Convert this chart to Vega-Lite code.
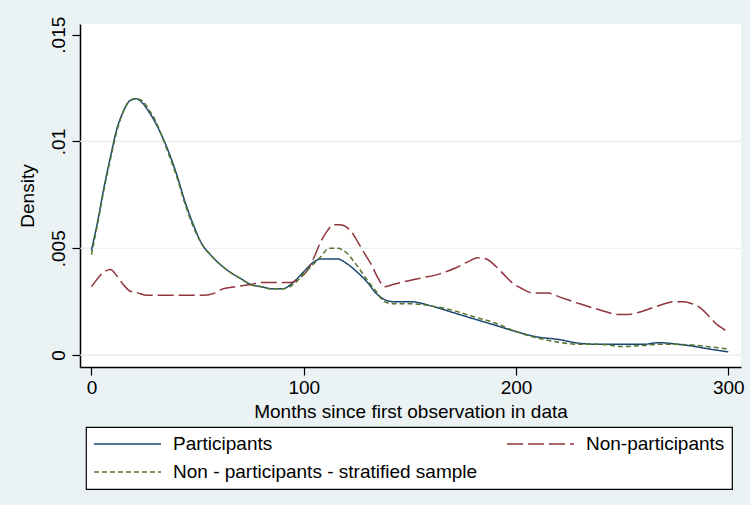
{
  "$schema": "https://vega.github.io/schema/vega-lite/v6.json",
  "width": 661,
  "height": 343,
  "autosize": {"type": "none"},
  "padding": {"left": 80, "top": 24, "right": 9, "bottom": 138},
  "background": "#EAF2F3",
  "config": {
    "view": {"fill": "white", "stroke": null},
    "font": "Liberation Sans",
    "axis": {
      "labelFont": "Liberation Sans",
      "titleFont": "Liberation Sans",
      "labelFontSize": 19,
      "titleFontSize": 19,
      "titleFontWeight": "normal",
      "labelColor": "black",
      "titleColor": "black",
      "domainColor": "black",
      "domainWidth": 1.5,
      "tickColor": "black",
      "tickWidth": 1.2,
      "tickSize": 8,
      "grid": false
    },
    "legend": {
      "labelFont": "Liberation Sans",
      "labelFontSize": 19,
      "labelColor": "black",
      "labelLimit": 500,
      "symbolType": "stroke",
      "symbolSize": 4489,
      "symbolStrokeWidth": 1.5,
      "clipHeight": 20,
      "rowPadding": 8,
      "columnPadding": 28,
      "labelOffset": 11,
      "padding": 7,
      "fillColor": "white",
      "strokeColor": "black",
      "strokeWidth": 1.2
    }
  },
  "layer": [
    {
      "data": {"values": [{"g": 0}, {"g": 0.005}, {"g": 0.01}]},
      "mark": {"type": "rule", "color": "#E3ECEF", "strokeWidth": 1.2},
      "encoding": {
        "y": {"field": "g", "type": "quantitative", "scale": {"domain": [-0.00056, 0.0155], "nice": false, "zero": false},
          "axis": {"title": "Density", "values": [0, 0.005, 0.01, 0.015], "labelAngle": -90, "labelAlign": "center", "labelBaseline": "bottom", "labelPadding": 4, "titlePadding": 12, "labelFlush": false,
            "labelExpr": "datum.value == 0 ? '0' : replace(format(datum.value, '~g'), '0.', '.')"}}
      }
    },
    {
      "data": {"values": [
        {"m": 0, "d": 0.0049, "s": "Participants"},
        {"m": 3, "d": 0.0063, "s": "Participants"},
        {"m": 6, "d": 0.0079, "s": "Participants"},
        {"m": 9, "d": 0.0093, "s": "Participants"},
        {"m": 12, "d": 0.0106, "s": "Participants"},
        {"m": 15, "d": 0.0114, "s": "Participants"},
        {"m": 18, "d": 0.0119, "s": "Participants"},
        {"m": 21, "d": 0.0120, "s": "Participants"},
        {"m": 24, "d": 0.0118, "s": "Participants"},
        {"m": 27, "d": 0.0114, "s": "Participants"},
        {"m": 30, "d": 0.0109, "s": "Participants"},
        {"m": 33, "d": 0.0103, "s": "Participants"},
        {"m": 36, "d": 0.0096, "s": "Participants"},
        {"m": 40, "d": 0.0085, "s": "Participants"},
        {"m": 44, "d": 0.0072, "s": "Participants"},
        {"m": 48, "d": 0.0061, "s": "Participants"},
        {"m": 52, "d": 0.0052, "s": "Participants"},
        {"m": 56, "d": 0.0047, "s": "Participants"},
        {"m": 60, "d": 0.0043, "s": "Participants"},
        {"m": 65, "d": 0.0039, "s": "Participants"},
        {"m": 70, "d": 0.0036, "s": "Participants"},
        {"m": 75, "d": 0.0033, "s": "Participants"},
        {"m": 80, "d": 0.0032, "s": "Participants"},
        {"m": 85, "d": 0.0031, "s": "Participants"},
        {"m": 90, "d": 0.0031, "s": "Participants"},
        {"m": 95, "d": 0.0034, "s": "Participants"},
        {"m": 100, "d": 0.0039, "s": "Participants"},
        {"m": 104, "d": 0.0043, "s": "Participants"},
        {"m": 108, "d": 0.0045, "s": "Participants"},
        {"m": 112, "d": 0.0045, "s": "Participants"},
        {"m": 116, "d": 0.0045, "s": "Participants"},
        {"m": 120, "d": 0.0043, "s": "Participants"},
        {"m": 125, "d": 0.0039, "s": "Participants"},
        {"m": 130, "d": 0.0034, "s": "Participants"},
        {"m": 134, "d": 0.0029, "s": "Participants"},
        {"m": 138, "d": 0.0026, "s": "Participants"},
        {"m": 142, "d": 0.0025, "s": "Participants"},
        {"m": 150, "d": 0.0025, "s": "Participants"},
        {"m": 160, "d": 0.0023, "s": "Participants"},
        {"m": 170, "d": 0.0020, "s": "Participants"},
        {"m": 180, "d": 0.0017, "s": "Participants"},
        {"m": 190, "d": 0.0014, "s": "Participants"},
        {"m": 200, "d": 0.0011, "s": "Participants"},
        {"m": 210, "d": 0.00085, "s": "Participants"},
        {"m": 220, "d": 0.00073, "s": "Participants"},
        {"m": 230, "d": 0.00055, "s": "Participants"},
        {"m": 240, "d": 0.0005, "s": "Participants"},
        {"m": 250, "d": 0.0005, "s": "Participants"},
        {"m": 260, "d": 0.0005, "s": "Participants"},
        {"m": 267, "d": 0.00058, "s": "Participants"},
        {"m": 275, "d": 0.00052, "s": "Participants"},
        {"m": 283, "d": 0.00042, "s": "Participants"},
        {"m": 290, "d": 0.0003, "s": "Participants"},
        {"m": 300, "d": 0.00015, "s": "Participants"},

        {"m": 0, "d": 0.0032, "s": "Non-participants"},
        {"m": 3, "d": 0.0036, "s": "Non-participants"},
        {"m": 6, "d": 0.0039, "s": "Non-participants"},
        {"m": 9, "d": 0.0040, "s": "Non-participants"},
        {"m": 12, "d": 0.0037, "s": "Non-participants"},
        {"m": 15, "d": 0.0033, "s": "Non-participants"},
        {"m": 18, "d": 0.0030, "s": "Non-participants"},
        {"m": 22, "d": 0.0029, "s": "Non-participants"},
        {"m": 26, "d": 0.0028, "s": "Non-participants"},
        {"m": 35, "d": 0.0028, "s": "Non-participants"},
        {"m": 45, "d": 0.0028, "s": "Non-participants"},
        {"m": 53, "d": 0.0028, "s": "Non-participants"},
        {"m": 58, "d": 0.0029, "s": "Non-participants"},
        {"m": 62, "d": 0.0031, "s": "Non-participants"},
        {"m": 68, "d": 0.0032, "s": "Non-participants"},
        {"m": 75, "d": 0.0033, "s": "Non-participants"},
        {"m": 80, "d": 0.0034, "s": "Non-participants"},
        {"m": 87, "d": 0.0034, "s": "Non-participants"},
        {"m": 94, "d": 0.0034, "s": "Non-participants"},
        {"m": 98, "d": 0.0036, "s": "Non-participants"},
        {"m": 102, "d": 0.0040, "s": "Non-participants"},
        {"m": 105, "d": 0.0046, "s": "Non-participants"},
        {"m": 108, "d": 0.0053, "s": "Non-participants"},
        {"m": 111, "d": 0.0058, "s": "Non-participants"},
        {"m": 114, "d": 0.0061, "s": "Non-participants"},
        {"m": 117, "d": 0.0061, "s": "Non-participants"},
        {"m": 120, "d": 0.0060, "s": "Non-participants"},
        {"m": 123, "d": 0.0057, "s": "Non-participants"},
        {"m": 126, "d": 0.0052, "s": "Non-participants"},
        {"m": 129, "d": 0.0047, "s": "Non-participants"},
        {"m": 132, "d": 0.0042, "s": "Non-participants"},
        {"m": 135, "d": 0.0036, "s": "Non-participants"},
        {"m": 138, "d": 0.0032, "s": "Non-participants"},
        {"m": 142, "d": 0.0033, "s": "Non-participants"},
        {"m": 146, "d": 0.0034, "s": "Non-participants"},
        {"m": 155, "d": 0.0036, "s": "Non-participants"},
        {"m": 164, "d": 0.0038, "s": "Non-participants"},
        {"m": 172, "d": 0.0041, "s": "Non-participants"},
        {"m": 178, "d": 0.0044, "s": "Non-participants"},
        {"m": 182, "d": 0.00455, "s": "Non-participants"},
        {"m": 186, "d": 0.0045, "s": "Non-participants"},
        {"m": 190, "d": 0.0042, "s": "Non-participants"},
        {"m": 194, "d": 0.0038, "s": "Non-participants"},
        {"m": 198, "d": 0.0034, "s": "Non-participants"},
        {"m": 203, "d": 0.0031, "s": "Non-participants"},
        {"m": 208, "d": 0.0029, "s": "Non-participants"},
        {"m": 215, "d": 0.0029, "s": "Non-participants"},
        {"m": 221, "d": 0.0027, "s": "Non-participants"},
        {"m": 230, "d": 0.0024, "s": "Non-participants"},
        {"m": 240, "d": 0.0021, "s": "Non-participants"},
        {"m": 248, "d": 0.0019, "s": "Non-participants"},
        {"m": 253, "d": 0.0019, "s": "Non-participants"},
        {"m": 258, "d": 0.0020, "s": "Non-participants"},
        {"m": 264, "d": 0.0022, "s": "Non-participants"},
        {"m": 270, "d": 0.0024, "s": "Non-participants"},
        {"m": 275, "d": 0.0025, "s": "Non-participants"},
        {"m": 279, "d": 0.0025, "s": "Non-participants"},
        {"m": 283, "d": 0.0024, "s": "Non-participants"},
        {"m": 287, "d": 0.0022, "s": "Non-participants"},
        {"m": 291, "d": 0.0018, "s": "Non-participants"},
        {"m": 295, "d": 0.0014, "s": "Non-participants"},
        {"m": 298, "d": 0.0012, "s": "Non-participants"},
        {"m": 300, "d": 0.0010, "s": "Non-participants"},

        {"m": 0, "d": 0.0047, "s": "Non - participants - stratified sample"},
        {"m": 3, "d": 0.0062, "s": "Non - participants - stratified sample"},
        {"m": 6, "d": 0.0078, "s": "Non - participants - stratified sample"},
        {"m": 9, "d": 0.0092, "s": "Non - participants - stratified sample"},
        {"m": 12, "d": 0.0105, "s": "Non - participants - stratified sample"},
        {"m": 15, "d": 0.0114, "s": "Non - participants - stratified sample"},
        {"m": 18, "d": 0.0119, "s": "Non - participants - stratified sample"},
        {"m": 21, "d": 0.0120, "s": "Non - participants - stratified sample"},
        {"m": 24, "d": 0.0119, "s": "Non - participants - stratified sample"},
        {"m": 27, "d": 0.0115, "s": "Non - participants - stratified sample"},
        {"m": 30, "d": 0.0110, "s": "Non - participants - stratified sample"},
        {"m": 33, "d": 0.0103, "s": "Non - participants - stratified sample"},
        {"m": 36, "d": 0.0095, "s": "Non - participants - stratified sample"},
        {"m": 40, "d": 0.0084, "s": "Non - participants - stratified sample"},
        {"m": 44, "d": 0.0071, "s": "Non - participants - stratified sample"},
        {"m": 48, "d": 0.0060, "s": "Non - participants - stratified sample"},
        {"m": 52, "d": 0.0052, "s": "Non - participants - stratified sample"},
        {"m": 56, "d": 0.0047, "s": "Non - participants - stratified sample"},
        {"m": 60, "d": 0.0043, "s": "Non - participants - stratified sample"},
        {"m": 65, "d": 0.0039, "s": "Non - participants - stratified sample"},
        {"m": 70, "d": 0.0036, "s": "Non - participants - stratified sample"},
        {"m": 75, "d": 0.0033, "s": "Non - participants - stratified sample"},
        {"m": 80, "d": 0.0032, "s": "Non - participants - stratified sample"},
        {"m": 85, "d": 0.0031, "s": "Non - participants - stratified sample"},
        {"m": 90, "d": 0.0031, "s": "Non - participants - stratified sample"},
        {"m": 95, "d": 0.0033, "s": "Non - participants - stratified sample"},
        {"m": 100, "d": 0.0038, "s": "Non - participants - stratified sample"},
        {"m": 104, "d": 0.0042, "s": "Non - participants - stratified sample"},
        {"m": 108, "d": 0.0046, "s": "Non - participants - stratified sample"},
        {"m": 112, "d": 0.0050, "s": "Non - participants - stratified sample"},
        {"m": 116, "d": 0.0050, "s": "Non - participants - stratified sample"},
        {"m": 120, "d": 0.0048, "s": "Non - participants - stratified sample"},
        {"m": 125, "d": 0.0042, "s": "Non - participants - stratified sample"},
        {"m": 130, "d": 0.0035, "s": "Non - participants - stratified sample"},
        {"m": 134, "d": 0.0030, "s": "Non - participants - stratified sample"},
        {"m": 138, "d": 0.0025, "s": "Non - participants - stratified sample"},
        {"m": 142, "d": 0.0024, "s": "Non - participants - stratified sample"},
        {"m": 150, "d": 0.0024, "s": "Non - participants - stratified sample"},
        {"m": 160, "d": 0.0023, "s": "Non - participants - stratified sample"},
        {"m": 170, "d": 0.0021, "s": "Non - participants - stratified sample"},
        {"m": 180, "d": 0.0018, "s": "Non - participants - stratified sample"},
        {"m": 190, "d": 0.0015, "s": "Non - participants - stratified sample"},
        {"m": 200, "d": 0.0011, "s": "Non - participants - stratified sample"},
        {"m": 210, "d": 0.0008, "s": "Non - participants - stratified sample"},
        {"m": 220, "d": 0.0006, "s": "Non - participants - stratified sample"},
        {"m": 230, "d": 0.0005, "s": "Non - participants - stratified sample"},
        {"m": 240, "d": 0.0005, "s": "Non - participants - stratified sample"},
        {"m": 250, "d": 0.0004, "s": "Non - participants - stratified sample"},
        {"m": 260, "d": 0.00045, "s": "Non - participants - stratified sample"},
        {"m": 267, "d": 0.0005, "s": "Non - participants - stratified sample"},
        {"m": 275, "d": 0.0005, "s": "Non - participants - stratified sample"},
        {"m": 283, "d": 0.00047, "s": "Non - participants - stratified sample"},
        {"m": 290, "d": 0.0004, "s": "Non - participants - stratified sample"},
        {"m": 300, "d": 0.00028, "s": "Non - participants - stratified sample"}
      ]},
      "mark": {"type": "line", "strokeWidth": 1.5, "interpolate": "monotone"},
      "encoding": {
        "x": {
          "field": "m", "type": "quantitative",
          "scale": {"domain": [-5.4, 306], "nice": false, "zero": false},
          "axis": {"title": "Months since first observation in data", "values": [0, 100, 200, 300], "labelPadding": 3, "titlePadding": 5, "labelFlush": false}
        },
        "y": {
          "field": "d", "type": "quantitative",
          "scale": {"domain": [-0.00056, 0.0155], "nice": false, "zero": false},
          "axis": {"title": "Density", "values": [0, 0.005, 0.01, 0.015], "labelAngle": -90, "labelAlign": "center", "labelBaseline": "bottom", "labelPadding": 4, "titlePadding": 12, "labelFlush": false,
            "labelExpr": "datum.value == 0 ? '0' : replace(format(datum.value, '~g'), '0.', '.')"}
        },
        "color": {
          "field": "s", "type": "nominal",
          "scale": {"domain": ["Participants", "Non - participants - stratified sample", "Non-participants"], "range": ["#1a476f", "#55752f", "#90353b"]},
          "legend": {"title": null, "orient": "none", "legendX": 6, "legendY": 403, "columns": 2}
        },
        "strokeDash": {
          "field": "s", "type": "nominal",
          "scale": {"domain": ["Participants", "Non - participants - stratified sample", "Non-participants"], "range": [[1, 0], [5, 3], [16, 5]]},
          "legend": {"title": null, "orient": "none", "legendX": 6, "legendY": 403, "columns": 2}
        }
      }
    }
  ]
}
